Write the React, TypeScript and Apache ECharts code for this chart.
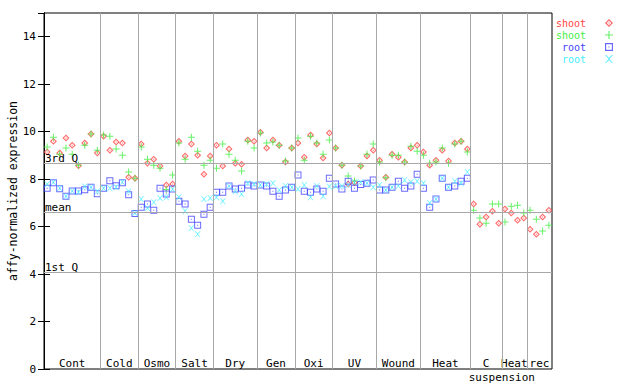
import React, { useEffect, useRef } from 'react';
import * as echarts from 'echarts';

const FONT = '"DejaVu Sans Mono", monospace';

const groupNames = ['Cont', 'Cold', 'Osmo', 'Salt', 'Dry', 'Gen', 'Oxi', 'UV', 'Wound', 'Heat', 'C', 'Heat', 'rec'];
const groupSizes = [9, 6, 6, 6, 7, 6, 6, 7, 7, 8, 5, 4, 4];
const suspensionLabel = 'suspension';
const suspensionAfterGroup = 10; // centred on the boundary after group "C"

const quartileNames = ['3rd Q', 'mean', '1st Q'];
const quartileValues = [8.67, 6.61, 4.08];

const yTicks = [0, 2, 4, 6, 8, 10, 12, 14];

const legendNames = ['shoot', 'shoot', 'root', 'root'];
const seriesColors = ['#ff4444', '#44ee44', '#4444ff', '#44eeff'];

const shootRed = [
  9.14, 9.6, 9.1, 9.73, 9.43, 8.56, 9.52, 9.9, 9.1,
  9.81, 9.22, 9.56, 9.52, 8.08, 8.04,
  9.48, 8.67, 8.84, 8.55, 7.75, 7.79,
  9.6, 8.97, 9.48, 9.01, 8.21, 8.97,
  9.43, 8.55, 9.27, 8.67, 8.63, 9.65, 9.6,
  9.98, 9.31, 9.65, 9.43, 8.72, 9.31,
  9.52, 8.92, 9.86, 9.48, 8.89, 9.94,
  9.31, 8.59, 7.79, 7.85, 8.55, 8.97, 9.22,
  8.8, 8.08, 9.05, 8.92, 8.72, 9.31, 9.43,
  9.14, 8.59, 8.8, 9.22, 8.76, 9.52, 9.6, 9.27,
  6.95, 6.1, 6.4, 6.65, 6.14,
  6.74, 6.57, 6.27, 6.36,
  5.89, 5.68, 6.4, 6.69,
];

const shootGreen = [
  9.35, 9.77, 9.05, 9.31, 9.05, 8.59, 9.43, 9.9, 9.22,
  9.86, 9.81, 9.27, 9.01, 8.3, 8.04,
  9.35, 8.84, 8.59, 8.46, 7.56, 8.17,
  9.52, 8.84, 9.77, 9.18, 8.59, 8.8,
  8.46, 9.48, 9.05, 8.8, 8.34, 9.6, 9.31,
  9.94, 9.52, 9.56, 9.43, 8.76, 9.31,
  9.73, 8.8, 9.81, 9.52, 9.05, 9.65,
  9.31, 8.59, 8.13, 7.92, 8.55, 9.05, 9.48,
  8.72, 8.06, 9.01, 9.01, 8.72, 9.39, 9.18,
  9.01, 8.67, 8.72, 9.31, 8.67, 9.48, 9.6, 9.14,
  6.69, 6.36, 6.14, 6.95, 6.95,
  6.19, 6.86, 6.9, 6.57,
  6.69, 6.31, 5.81, 6.06,
];

const rootBlue = [
  7.62, 7.85, 7.6, 7.28, 7.5, 7.5, 7.55, 7.66, 7.38,
  7.62, 7.93, 7.72, 7.85, 7.34, 6.55,
  6.82, 6.95, 6.69, 7.62, 7.37, 7.58,
  7.07, 6.95, 6.31, 6.06, 6.52, 6.82,
  7.45, 7.45, 7.71, 7.58, 7.62, 7.75, 7.71,
  7.75, 7.71, 7.49, 7.28, 7.54, 7.66,
  8.17, 7.49, 7.45, 7.58, 7.49, 8.04,
  7.79, 7.58, 7.91, 7.62, 7.77, 7.83, 7.96,
  7.54, 7.54, 7.66, 7.91, 7.62, 7.71, 8.21,
  7.62, 6.82, 7.16, 8.04, 7.66, 7.71, 7.91, 8.04,
];

const rootCyan = [
  7.78, 7.87, 7.62, 7.28, 7.5, 7.45, 7.69, 7.66, 7.49,
  7.62, 7.62, 7.66, 7.88, 7.48, 6.57,
  7.16, 6.78, 7.03, 7.2, 7.24, 7.58,
  7.24, 6.65, 5.93, 5.68, 7.16, 7.2,
  7.24, 7.07, 7.71, 7.49, 7.37, 7.83, 7.79,
  7.75, 7.79, 7.83, 7.54, 7.71, 7.66,
  7.58, 7.75, 7.24, 7.71, 7.28, 7.69,
  7.71, 7.71, 7.75, 7.87, 7.87, 7.83, 7.66,
  7.75, 7.54, 7.66, 7.71, 7.96, 7.87, 7.91,
  7.83, 6.99, 7.16, 8.04, 7.66, 7.91, 7.83, 8.3,
];

const SYM_DIAMOND = 'path://M3.5,0L7,3.5L3.5,7L0,3.5Z M3.5,1.5L1.5,3.5L3.5,5.5L5.5,3.5Z M3,3L4,3L4,4L3,4Z';
const SYM_PLUS = 'path://M3,0L4,0L4,3L7,3L7,4L4,4L4,7L3,7L3,4L0,4L0,3L3,3Z';
const SYM_SQUARE = 'path://M0,0L7,0L7,7L0,7Z M1,1L1,6L6,6L6,1Z M3,3L4,3L4,4L3,4Z';
const SYM_X = 'path://M0,0L1,0L3.5,2.5L6,0L7,0L4,3.5L7,7L6,7L3.5,4.5L1,7L0,7L3,3.5Z';

export default function App() {
  const ref = useRef<HTMLDivElement>(null);

  useEffect(() => {
    if (!ref.current) return;
    const chart = echarts.init(ref.current, null, { renderer: 'svg' });

    const bounds: number[] = [];
    let acc = 0;
    groupSizes.forEach((s) => {
      acc += s;
      bounds.push(acc);
    });
    const total = acc;
    const innerBounds = bounds.slice(0, -1);
    const centerLabels = new Map<number, string>();
    let start = 0;
    groupSizes.forEach((s, k) => {
      centerLabels.set(start * 2 + s, groupNames[k]);
      start += s;
    });
    const susKey = bounds[suspensionAfterGroup] * 2;

    const seriesNames = legendNames.map((n, i) => (i % 2 ? n + '\u200b' : n));
    const dataSets = [shootRed, shootGreen, rootBlue, rootCyan];
    const symbols = [SYM_DIAMOND, SYM_PLUS, SYM_SQUARE, SYM_X];
    const sizes = [7, 7, 7, 6];

    const option: any = {
      animation: false,
      backgroundColor: '#ffffff',
      grid: {
        left: 44,
        right: 88,
        top: 13,
        bottom: 15,
        show: true,
        borderColor: '#000',
        borderWidth: 1,
        containLabel: false,
        outerBoundsMode: 'none',
      },
      legend: {
        orient: 'vertical',
        right: 22,
        top: 12,
        align: 'right',
        itemWidth: 36,
        itemHeight: 8,
        itemGap: 0,
        selectedMode: false,
        symbolKeepAspect: true,
        textStyle: { fontFamily: FONT, fontSize: 10, lineHeight: 12 },
        data: seriesNames.map((n, i) => ({ name: n, textStyle: { color: seriesColors[i] } })),
      },
      xAxis: [
        {
          type: 'value',
          min: 0,
          max: total,
          interval: 0.5,
          position: 'bottom',
          axisLine: { show: false },
          axisTick: { show: false },
          splitLine: { show: false },
          axisLabel: {
            inside: true,
            margin: 0,
            showMinLabel: true,
            showMaxLabel: true,
            fontFamily: FONT,
            fontSize: 11,
            color: '#000',
            formatter: (v: number) => centerLabels.get(Math.round(v * 2)) ?? '',
          },
        },
        {
          type: 'value',
          min: 0,
          max: total,
          interval: 0.5,
          position: 'bottom',
          axisLine: { show: false },
          axisTick: { show: false },
          splitLine: { show: false },
          axisLabel: {
            margin: 3,
            showMinLabel: true,
            showMaxLabel: true,
            fontFamily: FONT,
            fontSize: 11,
            color: '#000',
            formatter: (v: number) => (Math.round(v * 2) === susKey ? suspensionLabel : ''),
          },
        },
      ],
      yAxis: [
        {
          type: 'value',
          position: 'left',
          min: yTicks[0],
          max: 15,
          interval: yTicks[1] - yTicks[0],
          axisLine: { show: true, lineStyle: { color: '#000' } },
          axisTick: { show: true, inside: true, length: 6, lineStyle: { color: '#000' } },
          axisLabel: { fontFamily: FONT, fontSize: 11, color: '#000', margin: 8, showMaxLabel: false },
          splitLine: { show: false },
          name: 'affy-normalized expression',
          nameLocation: 'middle',
          nameGap: 25.5,
          nameMoveOverlap: false,
          nameTextStyle: { fontFamily: FONT, fontSize: 11.5, color: '#000' },
        },
        {
          type: 'value',
          position: 'right',
          min: yTicks[0],
          max: 15,
          interval: yTicks[1] - yTicks[0],
          axisLine: { show: true, lineStyle: { color: '#000' } },
          axisTick: { show: true, inside: true, length: 6, lineStyle: { color: '#000' } },
          axisLabel: { show: false },
          splitLine: { show: false },
        },
      ],
      series: [
        {
          type: 'scatter',
          name: '_ref',
          data: [],
          silent: true,
          markLine: {
            silent: true,
            symbol: ['none', 'none'],
            lineStyle: { color: '#a8a8a8', type: 'solid', width: 1 },
            label: { show: false },
            emphasis: { disabled: true },
            data: [
              ...innerBounds.map((b) => ({ xAxis: b })),
              ...quartileValues.map((q, k) => ({
                yAxis: q,
                label: {
                  show: true,
                  formatter: quartileNames[k],
                  position: 'insideStartTop',
                  distance: [1, -1],
                  color: '#000',
                  fontFamily: FONT,
                  fontSize: 11,
                },
              })),
            ],
          },
        },
        ...dataSets.map((arr, s) => ({
          type: 'scatter',
          name: seriesNames[s],
          data: arr.map((v, i) => [i + 0.5, v]),
          symbol: symbols[s],
          symbolSize: sizes[s],
          symbolKeepAspect: true,
          itemStyle: { color: seriesColors[s] },
          silent: true,
          emphasis: { disabled: true },
        })),
      ],
    };

    chart.setOption(option);
    return () => chart.dispose();
  }, []);

  return <div ref={ref} style={{ position: 'fixed', left: 0, top: 0, width: 640, height: 384 }} />;
}
